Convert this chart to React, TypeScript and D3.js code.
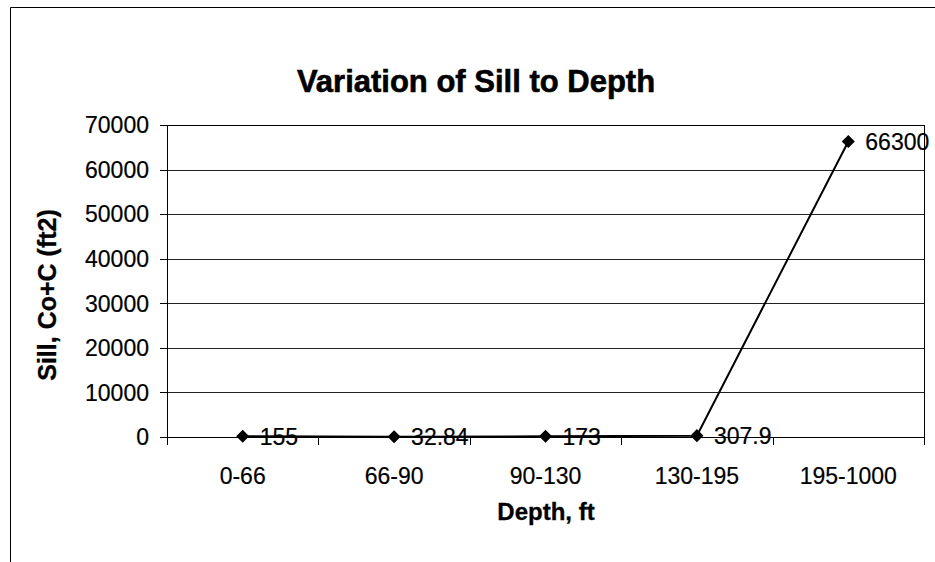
import React from "react";
import * as d3 from "d3";

const categories: string[] = ["0-66", "66-90", "90-130", "130-195", "195-1000"];
const sillValues: number[] = [155, 32.84, 173, 307.9, 66300];
const yTicks: number[] = [0, 10000, 20000, 30000, 40000, 50000, 60000, 70000];
const title = "Variation of Sill to Depth";
const xTitle = "Depth, ft";
const yTitle = "Sill, Co+C (ft2)";

const W = 935;
const H = 562;
const plot = { left: 167, right: 924, top: 125, bottom: 437 };
const FONT = "'Liberation Sans', Arial, sans-serif";

export default function App() {
  const x = d3.scaleBand<string>().domain(categories).range([plot.left, plot.right]);
  const y = d3.scaleLinear().domain([0, 70000]).range([plot.bottom, plot.top]);
  const cx = (c: string) => (x(c) as number) + x.bandwidth() / 2;

  const pts = categories.map((c, i) => ({ c, v: sillValues[i] }));
  const line = d3
    .line<{ c: string; v: number }>()
    .x((d) => cx(d.c))
    .y((d) => y(d.v));
  const marker = d3.symbol().type(d3.symbolSquare).size(85)() as string;
  const boundaries = [...categories.map((c) => x(c) as number), plot.right];

  return (
    <svg
      width={W}
      height={H}
      style={{ position: "absolute", left: 0, top: 0, background: "#fff" }}
      fontFamily={FONT}
    >
      <rect x={0} y={0} width={W} height={H} fill="#fff" />
      {/* outer chart border */}
      <path d={`M10.5,${H} L10.5,7.5 L${W},7.5`} fill="none" stroke="#000" strokeWidth={1} />

      {/* title */}
      <text
        x={476}
        y={92}
        textAnchor="middle"
        fontSize={31}
        fontWeight="bold"
        fill="#000"
        stroke="#000"
        strokeWidth={0.6}
      >
        {title}
      </text>

      {/* gridlines */}
      {yTicks.map((t) => (
        <line
          key={"g" + t}
          x1={plot.left}
          x2={plot.right}
          y1={Math.round(y(t)) + 0.5}
          y2={Math.round(y(t)) + 0.5}
          stroke="#222"
          strokeWidth={1}
        />
      ))}
      {/* plot border */}
      <rect
        x={plot.left + 0.5}
        y={plot.top + 0.5}
        width={plot.right - plot.left}
        height={plot.bottom - plot.top}
        fill="none"
        stroke="#000"
        strokeWidth={1}
      />

      {/* y ticks and labels */}
      {yTicks.map((t) => (
        <g key={"y" + t}>
          <line
            x1={plot.left - 7}
            x2={plot.left}
            y1={Math.round(y(t)) + 0.5}
            y2={Math.round(y(t)) + 0.5}
            stroke="#000"
          />
          <text
            x={149}
            y={y(t)}
            dy="0.36em"
            textAnchor="end"
            fontSize={23}
            fill="#000"
            stroke="#000"
            strokeWidth={0.2}
          >
            {t}
          </text>
        </g>
      ))}

      {/* x ticks */}
      {boundaries.map((b, i) => (
        <line
          key={"xt" + i}
          x1={Math.round(b) + 0.5}
          x2={Math.round(b) + 0.5}
          y1={plot.bottom}
          y2={plot.bottom + 8}
          stroke="#000"
        />
      ))}
      {/* category labels */}
      {categories.map((c) => (
        <text
          key={"c" + c}
          x={cx(c)}
          y={484}
          textAnchor="middle"
          fontSize={23}
          fill="#000"
          stroke="#000"
          strokeWidth={0.2}
        >
          {c}
        </text>
      ))}

      {/* axis titles */}
      <text
        x={546}
        y={520}
        textAnchor="middle"
        fontSize={24}
        fontWeight="bold"
        fill="#000"
        stroke="#000"
        strokeWidth={0.3}
      >
        {xTitle}
      </text>
      <text
        transform={`translate(56,${(plot.top + plot.bottom) / 2 + 14}) rotate(-90)`}
        textAnchor="middle"
        fontSize={25}
        fontWeight="bold"
        fill="#000"
        stroke="#000"
        strokeWidth={0.3}
      >
        {yTitle}
      </text>

      {/* series line */}
      <path d={line(pts) as string} fill="none" stroke="#000" strokeWidth={2} />
      {pts.map((d) => (
        <path
          key={"m" + d.c}
          d={marker}
          transform={`translate(${cx(d.c)},${y(d.v)}) rotate(45)`}
          fill="#000"
        />
      ))}
      {/* data labels */}
      {pts.map((d) => (
        <text
          key={"l" + d.c}
          x={cx(d.c) + 17}
          y={y(d.v)}
          dy="0.36em"
          fontSize={23}
          fill="#000"
          stroke="#000"
          strokeWidth={0.2}
        >
          {String(d.v)}
        </text>
      ))}
    </svg>
  );
}
